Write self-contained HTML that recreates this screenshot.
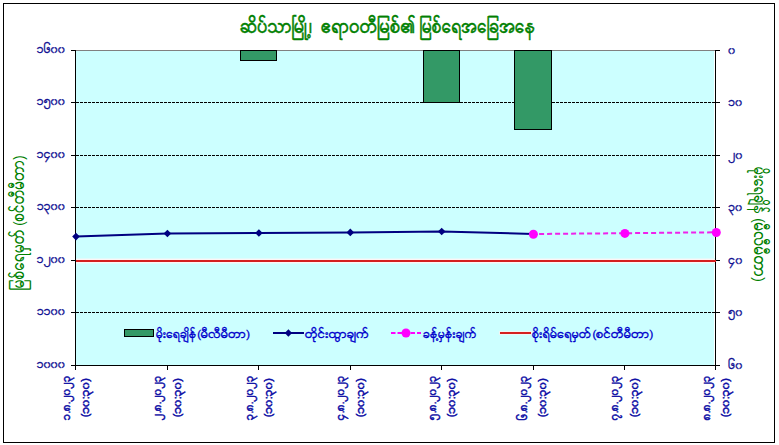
<!DOCTYPE html>
<html lang="my"><head><meta charset="utf-8"><title>ဆိပ်သာမြို့၊ ဧရာဝတီမြစ်၏ မြစ်ရေအခြေအနေ</title>
<style>html,body{margin:0;padding:0;background:#fff}svg{display:block}
text{font-family:"Liberation Sans", "TharLon", "Myanmar Sans Pro", "Padauk", "Noto Sans Myanmar", "Noto Sans Myanmar UI", sans-serif}
.t{font-size:17.2px;fill:#008000;stroke:#008000;stroke-width:.45px}.at{font-size:15px;fill:#008000}.k{font-size:10.7px;fill:#101092;stroke:#101092;stroke-width:.3px}.x{font-size:10.7px;fill:#0c0ca4;stroke:#0c0ca4;stroke-width:.5px}.l{font-size:10.9px;fill:#0000cc;stroke:#0000cc;stroke-width:.3px}
</style></head><body>
<svg width="779" height="445" viewBox="0 0 779 445">
<rect x="0" y="0" width="779" height="445" fill="#fff"/>
<g shape-rendering="crispEdges">
<rect x="3.5" y="3.5" width="771" height="439" fill="#fff" stroke="#000" stroke-width="1"/>
<rect x="76" y="51" width="638" height="314" fill="#ccffff"/>
<line x1="75" y1="50.5" x2="716" y2="50.5" stroke="#808080" stroke-width="1"/>
<line x1="76" y1="102.5" x2="715" y2="102.5" stroke="#000" stroke-width="1" stroke-dasharray="3 1"/>
<line x1="76" y1="155.5" x2="715" y2="155.5" stroke="#000" stroke-width="1" stroke-dasharray="3 1"/>
<line x1="76" y1="207.5" x2="715" y2="207.5" stroke="#000" stroke-width="1" stroke-dasharray="3 1"/>
<line x1="76" y1="260.5" x2="715" y2="260.5" stroke="#000" stroke-width="1" stroke-dasharray="3 1"/>
<line x1="76" y1="312.5" x2="715" y2="312.5" stroke="#000" stroke-width="1" stroke-dasharray="3 1"/>
<rect x="240.5" y="50.5" width="36" height="10" fill="#339966" stroke="#000" stroke-width="1"/>
<rect x="423.5" y="50.5" width="36" height="52" fill="#339966" stroke="#000" stroke-width="1"/>
<rect x="514.5" y="50.5" width="37" height="79" fill="#339966" stroke="#000" stroke-width="1"/>
<line x1="75.5" y1="50" x2="75.5" y2="366" stroke="#000"/>
<line x1="715.5" y1="50" x2="715.5" y2="366" stroke="#000"/>
<line x1="75" y1="365.5" x2="716" y2="365.5" stroke="#000"/>
<line x1="71" y1="50.5" x2="75" y2="50.5" stroke="#000"/>
<line x1="716" y1="50.5" x2="720" y2="50.5" stroke="#000"/>
<line x1="71" y1="102.5" x2="75" y2="102.5" stroke="#000"/>
<line x1="716" y1="102.5" x2="720" y2="102.5" stroke="#000"/>
<line x1="71" y1="155.5" x2="75" y2="155.5" stroke="#000"/>
<line x1="716" y1="155.5" x2="720" y2="155.5" stroke="#000"/>
<line x1="71" y1="207.5" x2="75" y2="207.5" stroke="#000"/>
<line x1="716" y1="207.5" x2="720" y2="207.5" stroke="#000"/>
<line x1="71" y1="260.5" x2="75" y2="260.5" stroke="#000"/>
<line x1="716" y1="260.5" x2="720" y2="260.5" stroke="#000"/>
<line x1="71" y1="312.5" x2="75" y2="312.5" stroke="#000"/>
<line x1="716" y1="312.5" x2="720" y2="312.5" stroke="#000"/>
<line x1="71" y1="365.5" x2="75" y2="365.5" stroke="#000"/>
<line x1="716" y1="365.5" x2="720" y2="365.5" stroke="#000"/>
<line x1="75.5" y1="366" x2="75.5" y2="370" stroke="#000"/>
<line x1="167.5" y1="366" x2="167.5" y2="370" stroke="#000"/>
<line x1="258.5" y1="366" x2="258.5" y2="370" stroke="#000"/>
<line x1="350.5" y1="366" x2="350.5" y2="370" stroke="#000"/>
<line x1="441.5" y1="366" x2="441.5" y2="370" stroke="#000"/>
<line x1="533.5" y1="366" x2="533.5" y2="370" stroke="#000"/>
<line x1="624.5" y1="366" x2="624.5" y2="370" stroke="#000"/>
<line x1="715.5" y1="366" x2="715.5" y2="370" stroke="#000"/>
<line x1="76" y1="261" x2="715" y2="261" stroke="#e2fbfb" stroke-width="6"/>
<line x1="76" y1="261" x2="715" y2="261" stroke="#fdf5f5" stroke-width="4"/>
<line x1="76" y1="261" x2="716" y2="261" stroke="#d42020" stroke-width="2"/>
</g>
<polyline points="76.0,236.6 167.4,233.5 258.9,233.0 350.3,232.4 441.7,231.5 533.1,234.0" fill="none" stroke="#000080" stroke-width="2"/>
<polyline points="533.1,234.0 624.6,233.2 716.0,232.3" fill="none" stroke="#ee22ea" stroke-width="2" stroke-dasharray="5 3" stroke-dashoffset="-6"/>
<polygon points="72.2,236.6 76.0,232.8 79.8,236.6 76.0,240.4" fill="#000080"/>
<polygon points="163.6,233.5 167.4,229.7 171.2,233.5 167.4,237.3" fill="#000080"/>
<polygon points="255.1,233.0 258.9,229.2 262.7,233.0 258.9,236.8" fill="#000080"/>
<polygon points="346.5,232.4 350.3,228.6 354.1,232.4 350.3,236.2" fill="#000080"/>
<polygon points="437.9,231.5 441.7,227.7 445.5,231.5 441.7,235.3" fill="#000080"/>
<circle cx="533.4" cy="234.2" r="4.5" fill="#ff00ff"/>
<circle cx="624.9" cy="233.4" r="4.5" fill="#ff00ff"/>
<circle cx="716.3" cy="232.5" r="4.5" fill="#ff00ff"/>
<rect x="124.5" y="329.5" width="29" height="7" fill="#339966" stroke="#000" shape-rendering="crispEdges"/>
<line x1="273" y1="333" x2="304" y2="333" stroke="#000080" stroke-width="2"/>
<polygon points="284.7,333 288.4,329.3 292.1,333 288.4,336.7" fill="#000080"/>
<line x1="391" y1="333" x2="421" y2="333" stroke="#ff00ff" stroke-width="2" stroke-dasharray="4.5 2"/>
<circle cx="406" cy="333" r="4.5" fill="#ff00ff"/>
<rect x="499" y="331" width="33" height="4" fill="#f0f4f2" shape-rendering="crispEdges"/>
<line x1="500" y1="333" x2="531" y2="333" stroke="#d42020" stroke-width="2" shape-rendering="crispEdges"/>
<text class="l" y="337.5"><tspan x="156.2" textLength="40.4" lengthAdjust="spacingAndGlyphs">မိုးရေချိန်</tspan><tspan x="197.2" textLength="52.8" lengthAdjust="spacingAndGlyphs">(မီလီမီတာ)</tspan></text>
<text class="l" x="305.3" y="337.5" textLength="64" lengthAdjust="spacingAndGlyphs">တိုင်းထွာချက်</text>
<text class="l" x="423.3" y="337.5" textLength="53.5" lengthAdjust="spacingAndGlyphs">ခန့်မှန်းချက်</text>
<text class="l" y="337.5"><tspan x="532.3" textLength="59.2" lengthAdjust="spacingAndGlyphs">စိုးရိမ်ရေမှတ်</tspan><tspan x="592.4" textLength="60.8" lengthAdjust="spacingAndGlyphs">(စင်တီမီတာ)</tspan></text>
<text class="t" y="32.8"><tspan x="240.6" textLength="72" lengthAdjust="spacingAndGlyphs">ဆိပ်သာမြို့၊</tspan> <tspan x="321.4" textLength="94" lengthAdjust="spacingAndGlyphs">ဧရာဝတီမြစ်၏</tspan> <tspan x="420.2" textLength="115.6" lengthAdjust="spacingAndGlyphs">မြစ်ရေအခြေအနေ</tspan></text>
<text class="k" x="65.4" y="52.9" text-anchor="end">၁၆၀၀</text>
<text class="k" x="65.4" y="104.9" text-anchor="end">၁၅၀၀</text>
<text class="k" x="65.4" y="157.9" text-anchor="end">၁၄၀၀</text>
<text class="k" x="65.4" y="209.9" text-anchor="end">၁၃၀၀</text>
<text class="k" x="65.4" y="262.9" text-anchor="end">၁၂၀၀</text>
<text class="k" x="65.4" y="314.9" text-anchor="end">၁၁၀၀</text>
<text class="k" x="65.4" y="367.9" text-anchor="end">၁၀၀၀</text>
<text class="k" x="728.6" y="53.7">၀</text>
<text class="k" x="728.6" y="105.7">၁၀</text>
<text class="k" x="728.6" y="158.7">၂၀</text>
<text class="k" x="728.6" y="210.7">၃၀</text>
<text class="k" x="728.6" y="263.7">၄၀</text>
<text class="k" x="728.6" y="315.7">၅၀</text>
<text class="k" x="728.6" y="368.7">၆၀</text>
<text class="at" transform="translate(24.3,289.7) rotate(-90)"><tspan x="0" textLength="60.6" lengthAdjust="spacingAndGlyphs">မြစ်ရေမှတ်</tspan> <tspan x="64" textLength="70.4" lengthAdjust="spacingAndGlyphs">(စင်တီမီတာ)</tspan></text>
<text class="at" transform="translate(754,167.2) rotate(90)"><tspan x="0" textLength="47.2" lengthAdjust="spacingAndGlyphs">မိုးရေချိန်</tspan> <tspan x="51" textLength="63.6" lengthAdjust="spacingAndGlyphs">(မီလီမီတာ)</tspan></text>
<text class="x" transform="translate(69.8,419.9) rotate(-90)" textLength="44.4" lengthAdjust="spacingAndGlyphs">၁.၈.၂၀၂၃</text>
<text class="x" transform="translate(89.2,417.2) rotate(-90)" textLength="39" lengthAdjust="spacingAndGlyphs">(၁၀:၃၀)</text>
<text class="x" transform="translate(161.2,419.9) rotate(-90)" textLength="44.4" lengthAdjust="spacingAndGlyphs">၂.၈.၂၀၂၃</text>
<text class="x" transform="translate(180.6,417.2) rotate(-90)" textLength="39" lengthAdjust="spacingAndGlyphs">(၁၀:၃၀)</text>
<text class="x" transform="translate(252.7,419.9) rotate(-90)" textLength="44.4" lengthAdjust="spacingAndGlyphs">၃.၈.၂၀၂၃</text>
<text class="x" transform="translate(272.1,417.2) rotate(-90)" textLength="39" lengthAdjust="spacingAndGlyphs">(၁၀:၃၀)</text>
<text class="x" transform="translate(344.1,419.9) rotate(-90)" textLength="44.4" lengthAdjust="spacingAndGlyphs">၄.၈.၂၀၂၃</text>
<text class="x" transform="translate(363.5,417.2) rotate(-90)" textLength="39" lengthAdjust="spacingAndGlyphs">(၁၀:၃၀)</text>
<text class="x" transform="translate(435.5,419.9) rotate(-90)" textLength="44.4" lengthAdjust="spacingAndGlyphs">၅.၈.၂၀၂၃</text>
<text class="x" transform="translate(454.9,417.2) rotate(-90)" textLength="39" lengthAdjust="spacingAndGlyphs">(၁၀:၃၀)</text>
<text class="x" transform="translate(526.9,419.9) rotate(-90)" textLength="44.4" lengthAdjust="spacingAndGlyphs">၆.၈.၂၀၂၃</text>
<text class="x" transform="translate(546.3,417.2) rotate(-90)" textLength="39" lengthAdjust="spacingAndGlyphs">(၁၀:၃၀)</text>
<text class="x" transform="translate(618.4,419.9) rotate(-90)" textLength="44.4" lengthAdjust="spacingAndGlyphs">၇.၈.၂၀၂၃</text>
<text class="x" transform="translate(637.8,417.2) rotate(-90)" textLength="39" lengthAdjust="spacingAndGlyphs">(၁၀:၃၀)</text>
<text class="x" transform="translate(709.8,419.9) rotate(-90)" textLength="44.4" lengthAdjust="spacingAndGlyphs">၈.၈.၂၀၂၃</text>
<text class="x" transform="translate(729.2,417.2) rotate(-90)" textLength="39" lengthAdjust="spacingAndGlyphs">(၁၀:၃၀)</text>
</svg></body></html>
